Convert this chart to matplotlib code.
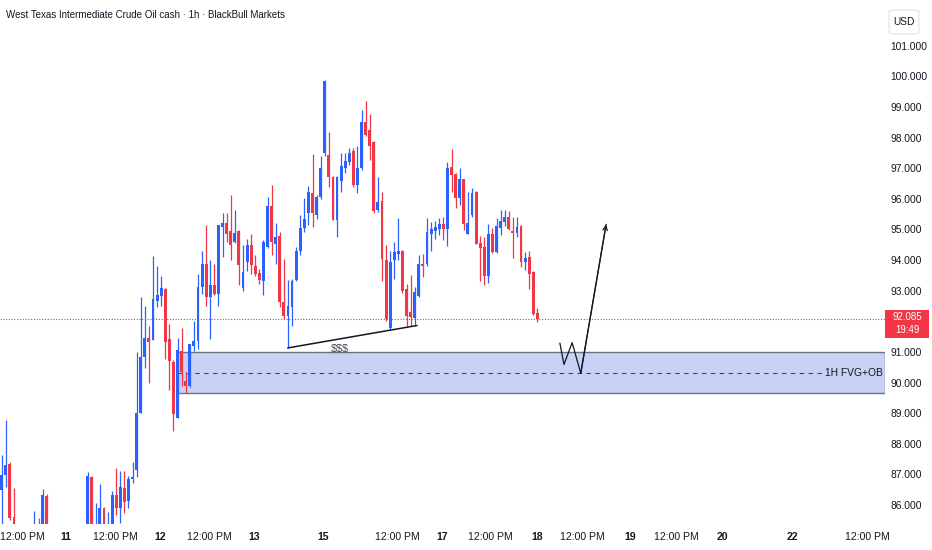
import matplotlib
matplotlib.use("Agg")
import matplotlib.pyplot as plt
from matplotlib.patches import Rectangle, FancyBboxPatch
from matplotlib.transforms import blended_transform_factory

# hourly candles (bars below 85.4 are out of view)
opens = [86.49, 86.99, 87.35, 85.60, 85.20, 84.80, 85.00, 84.90, 85.00, 85.30,
         85.10, 86.30, 85.20, 84.90, 84.70, 84.80, 85.00, 84.90, 85.10, 85.00,
         85.20, 85.10, 86.92, 85.10, 85.30, 85.90, 85.00, 85.30, 86.33, 85.90,
         86.56, 86.13, 86.85, 87.15, 89.02, 90.82, 91.44, 91.38, 92.67, 92.84,
         93.06, 91.42, 90.68, 88.85, 91.03, 90.05, 89.88, 91.20, 91.36, 93.11,
         93.88, 92.79, 93.17, 92.89, 95.08, 95.21, 94.95, 94.59, 94.95, 93.10,
         93.93, 94.48, 93.82, 93.58, 93.33, 94.43, 95.76, 94.53, 94.79, 92.62,
         92.16, 92.46, 93.36, 94.31, 95.05, 95.52, 96.18, 95.46, 96.07, 97.49,
         97.43, 96.72, 95.32, 96.58, 97.02, 97.19, 97.56, 96.45, 96.99, 98.50,
         98.25, 97.85, 95.63, 95.92, 93.99, 91.77, 93.99, 94.21, 94.31, 93.06,
         92.29, 92.10, 92.84, 93.88, 93.88, 94.86, 94.94, 95.00, 95.16, 95.00,
         97.05, 96.80, 96.03, 96.64, 94.86, 95.46, 96.23, 94.57, 94.43, 93.48,
         94.86, 94.26, 95.05, 95.25, 95.41, 94.94, 94.89, 95.11, 93.93, 94.10,
         93.60, 92.27]
highs = [87.64, 88.77, 87.40, 86.56, 85.35, 85.20, 85.30, 85.25, 85.80, 85.57,
         86.52, 86.35, 85.30, 85.20, 85.00, 85.10, 85.30, 85.20, 85.35, 85.30,
         85.35, 87.09, 86.95, 86.07, 86.69, 85.94, 85.77, 86.46, 87.21, 87.12,
         87.12, 86.95, 87.41, 91.00, 92.79, 92.51, 91.85, 94.13, 93.80, 93.47,
         93.10, 91.91, 90.72, 91.45, 91.77, 90.34, 91.25, 92.02, 93.55, 94.31,
         95.14, 93.99, 93.88, 95.14, 95.52, 95.52, 96.12, 95.63, 94.98, 94.50,
         94.70, 94.86, 94.15, 93.71, 94.64, 96.07, 96.45, 95.22, 94.92, 94.04,
         93.36, 93.39, 94.43, 95.46, 96.01, 96.43, 97.46, 96.12, 97.38, 99.89,
         98.18, 96.75, 96.75, 97.49, 97.49, 97.65, 97.67, 97.71, 98.91, 99.20,
         98.77, 97.88, 96.72, 96.23, 94.48, 94.28, 94.59, 95.36, 94.33, 93.22,
         93.52, 93.11, 94.15, 94.21, 95.38, 95.25, 95.27, 95.36, 95.42, 97.19,
         97.62, 96.85, 97.02, 96.66, 96.21, 96.36, 96.25, 94.79, 94.75, 95.16,
         95.03, 95.36, 95.63, 95.63, 95.60, 95.41, 95.41, 95.13, 94.26, 94.28,
         93.63, 92.42]
lows = [85.00, 86.59, 85.50, 84.90, 84.60, 84.40, 84.70, 84.60, 84.70, 84.90,
        85.00, 85.00, 84.70, 84.50, 84.30, 84.50, 84.70, 84.60, 84.80, 84.70,
        84.90, 85.00, 85.10, 84.90, 85.10, 85.10, 84.90, 85.10, 85.67, 85.40,
        85.74, 85.90, 86.72, 86.90, 89.00, 90.49, 90.00, 91.38, 92.46, 92.51,
        90.76, 89.75, 88.41, 88.85, 89.88, 89.67, 89.85, 91.03, 91.09, 92.89,
        92.49, 91.42, 92.85, 92.51, 94.10, 94.59, 93.99, 94.55, 93.17, 93.00,
        93.63, 93.55, 93.49, 93.22, 92.86, 94.40, 94.15, 93.88, 92.46, 92.07,
        91.14, 91.85, 93.30, 94.15, 94.92, 95.14, 95.08, 95.35, 96.00, 97.40,
        96.40, 95.30, 94.75, 96.23, 96.83, 97.10, 96.40, 96.18, 96.95, 98.04,
        97.27, 95.55, 95.58, 93.30, 92.02, 91.72, 93.39, 93.99, 92.91, 91.85,
        91.85, 91.85, 92.80, 93.44, 93.82, 94.28, 94.70, 94.81, 94.64, 94.46,
        96.23, 95.71, 95.79, 94.97, 94.84, 95.40, 94.53, 93.33, 93.17, 93.25,
        94.24, 94.24, 94.81, 95.11, 94.97, 94.07, 94.75, 93.77, 93.66, 93.06,
        92.20, 91.98]
closes = [86.99, 87.31, 85.57, 85.20, 84.80, 85.00, 84.90, 85.10, 85.30, 85.10,
          86.33, 85.20, 84.90, 84.70, 84.80, 85.00, 84.90, 85.10, 85.00, 85.20,
          85.10, 86.95, 85.20, 85.30, 85.90, 85.30, 85.30, 86.33, 85.90, 86.59,
          86.10, 86.85, 86.92, 89.02, 90.83, 91.44, 91.31, 92.73, 92.87, 93.09,
          91.31, 90.70, 88.96, 91.06, 90.34, 89.88, 91.25, 91.36, 93.11, 93.88,
          92.79, 93.17, 92.89, 95.14, 95.21, 94.86, 94.48, 94.89, 93.85, 93.60,
          94.48, 93.85, 93.55, 93.36, 94.59, 95.76, 94.59, 94.75, 92.62, 92.18,
          92.49, 93.30, 94.31, 95.05, 95.35, 96.21, 95.52, 96.07, 97.02, 99.86,
          96.72, 95.32, 96.72, 97.08, 97.24, 97.49, 96.45, 97.00, 98.50, 98.07,
          97.71, 95.60, 95.88, 94.04, 92.07, 93.95, 94.26, 94.31, 93.00, 92.18,
          92.13, 92.97, 93.88, 93.82, 94.92, 95.00, 95.08, 95.16, 95.00, 97.02,
          96.78, 96.01, 96.64, 95.19, 95.22, 96.18, 94.53, 94.39, 93.48, 94.86,
          94.26, 95.11, 95.27, 95.41, 95.00, 94.89, 95.08, 93.93, 94.07, 93.55,
          92.24, 92.085]

# time axis (in bar units) and price axis
tick_pos = [5.0, 15.7, 27.8, 38.7, 50.7, 61.7, 78.6, 96.7, 107.6, 119.6,
            130.9, 142.1, 153.6, 165.1, 176.3, 193.4, 211.6]
tick_labels = ["12:00 PM", "11", "12:00 PM", "12", "12:00 PM", "13", "15",
               "12:00 PM", "17", "12:00 PM", "18", "12:00 PM", "19",
               "12:00 PM", "20", "22", "12:00 PM"]
price_ticks = [86, 87, 88, 89, 90, 91, 93, 94, 95, 96, 97, 98, 99, 100, 101]  # 92 sits under the price tag

# drawings
zone_start, zone_top, zone_bottom = 42.8, 91.0, 89.65
liq_x = [70, 101.5]
liq_y = [91.13, 91.86]
path_x = [136.5, 137.5, 139.5, 141.6, 147.8]
path_y = [91.28, 90.59, 91.30, 90.30, 95.16]
last_price = 92.085
countdown = "19:49"

UP = "#2962ff"
DOWN = "#f23645"
TXT = "#131722"
plt.rcParams["font.family"] = ["Liberation Sans", "DejaVu Sans"]

fig = plt.figure(figsize=(9.32, 5.5), dpi=100)
ax = fig.add_axes([0, 26 / 550, 885 / 932, 524 / 550])
ax.set_xlim(-0.42, 216)
ax.set_ylim(85.38, 102.49)

xs = list(range(len(opens)))
cols = [UP if c >= o else DOWN for o, c in zip(opens, closes)]
ax.vlines(xs, lows, highs, colors=cols, lw=0.9, zorder=3)
bottoms = [min(o, c) for o, c in zip(opens, closes)]
heights = [max(abs(c - o), 0.03) for o, c in zip(opens, closes)]
ax.bar(xs, heights, bottom=bottoms, width=0.7, color=cols, zorder=4)

# FVG + OB zone
ax.add_patch(Rectangle((zone_start, zone_bottom), 216 - zone_start, zone_top - zone_bottom,
                       facecolor="#c9d2f4", edgecolor="#6b7280", lw=1.0, zorder=2))
mid = (zone_top + zone_bottom) / 2
ax.plot([zone_start, 201.2], [mid, mid], color="#434651", lw=0.8, ls=(0, (4, 4)), zorder=2.5)
ax.text(215.6, mid, "1H FVG+OB", ha="right", va="center", fontsize=7.4, color=TXT, zorder=5)

# liquidity line
ax.plot(liq_x, liq_y, color="#131722", lw=1.1, zorder=5)
ax.text(82.7, 91.1, "$$$", ha="center", va="center", fontsize=7.8, color="#434651", zorder=5)

# projected path
ax.plot(path_x, path_y, color="#131722", lw=0.9, zorder=5)
ax.annotate("", xy=(path_x[-1], path_y[-1]), xytext=(path_x[-2], path_y[-2]),
            arrowprops=dict(arrowstyle="->", color="#131722", lw=0.9,
                            shrinkA=0, shrinkB=0, mutation_scale=8), zorder=5)

# last price line
ax.axhline(last_price, color=DOWN, lw=0.8, ls=(0, (1, 1.5)), zorder=1)

for s in ax.spines.values():
    s.set_visible(False)

ax.set_xticks(tick_pos)
ax.set_xticklabels(tick_labels)
ax.tick_params(axis="x", length=0, pad=6, labelsize=7.6, labelcolor=TXT)
for lbl in ax.get_xticklabels():
    if ":" not in lbl.get_text():
        lbl.set_fontweight("bold")

ax.yaxis.tick_right()
ax.set_yticks(price_ticks)
ax.set_yticklabels([f"{p:.3f}" for p in price_ticks])
ax.tick_params(axis="y", length=0, pad=4, labelsize=7.4, labelcolor=TXT)

# last price tag on the scale
tr = blended_transform_factory(ax.transAxes, ax.transData)
ax.add_patch(FancyBboxPatch((1.0 - 0.0005, last_price - 0.62), 0.05, 0.91,
                            boxstyle="square,pad=0", transform=tr, clip_on=False,
                            facecolor=DOWN, edgecolor="none", zorder=6))
ax.text(1.025, last_price + 0.07, "92.085", transform=tr, ha="center", va="center",
        fontsize=7.0, color="white", clip_on=False, zorder=7)
ax.text(1.025, last_price - 0.38, countdown, transform=tr, ha="center", va="center",
        fontsize=7.0, color="white", clip_on=False, zorder=7)

# currency box
fig.patches.append(FancyBboxPatch((889 / 932, 1 - 34 / 550), 30 / 932, 24 / 550,
                                  boxstyle="round,pad=0,rounding_size=0.004",
                                  transform=fig.transFigure, facecolor="white",
                                  edgecolor="#e0e3eb", lw=0.8))
fig.text(904 / 932, 1 - 22 / 550, "USD", ha="center", va="center", fontsize=7.3, color=TXT)

fig.text(6 / 932, 1 - 15 / 550, "West Texas Intermediate Crude Oil cash \u00b7 1h \u00b7 BlackBull Markets",
         ha="left", va="center", fontsize=7.0, color=TXT)

fig.savefig("out.png", dpi=100, facecolor="white")
